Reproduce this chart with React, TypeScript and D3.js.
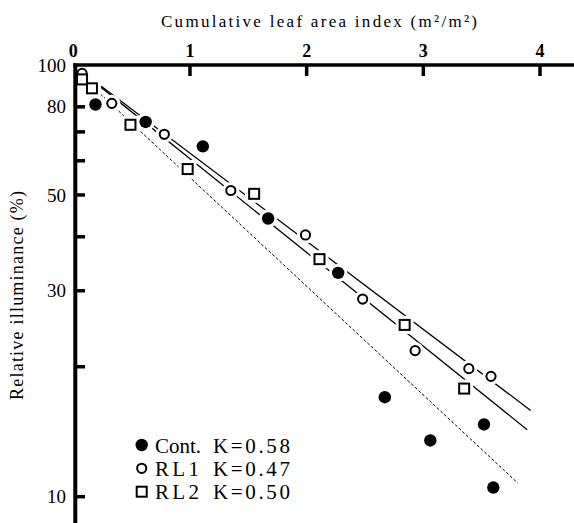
import React from "react";
import * as d3 from "d3";

const WIDTH = 574;
const HEIGHT = 523;

// Axis ticks
const laiTicks = [0, 1, 2, 3, 4];
const illumTicks = [10, 20, 30, 40, 50, 60, 70, 80, 100];
const illumLabels = [10, 30, 50, 80, 100];

// Control canopy (filled circles)
const contLAI = [0.19, 0.62, 1.11, 1.67, 2.27, 2.67, 3.06, 3.52, 3.6];
const contIllum = [81.0, 73.8, 64.8, 44.1, 33.0, 17.0, 13.5, 14.7, 10.5];

// RL1 (open circles)
const rl1LAI = [0.075, 0.33, 0.78, 1.35, 1.99, 2.48, 2.93, 3.39, 3.58];
const rl1Illum = [95.6, 81.5, 69.1, 51.2, 40.4, 28.7, 21.8, 19.8, 19.0];

// RL2 (open squares)
const rl2LAI = [0.075, 0.16, 0.49, 0.98, 1.55, 2.11, 2.84, 3.35];
const rl2Illum = [92.6, 88.3, 72.7, 57.4, 50.3, 35.5, 25.0, 17.8];

// Beer–Lambert fits: I = I0 * exp(-K * F)
const seriesNames = ["Cont.", "RL1", "RL2"];
const extinctionK = [0.58, 0.47, 0.5];
const fitIntercept = [98, 100, 100];
const fitStart = [0.2, 0.24, 0.22];
const fitEnd = [3.81, 3.92, 3.89];

type Kind = "dot" | "circle" | "square";
const seriesKinds: Kind[] = ["dot", "circle", "square"];
const seriesLAI = [contLAI, rl1LAI, rl2LAI];
const seriesIllum = [contIllum, rl1Illum, rl2Illum];

const FONT = "Liberation Serif, DejaVu Serif, serif";

function Marker({ kind, cx, cy, halo = false }: { kind: Kind; cx: number; cy: number; halo?: boolean }) {
  const pad = halo ? 3 : 0;
  const stroke = halo ? "#fff" : "#000";
  if (kind === "dot") {
    return <circle cx={cx} cy={cy} r={6.2 + pad} fill={halo ? "#fff" : "#000"} />;
  }
  if (kind === "circle") {
    return <circle cx={cx} cy={cy} r={4.6 + pad} fill="#fff" stroke={stroke} strokeWidth={2} />;
  }
  const s = 10 + pad * 2;
  return (
    <rect x={cx - s / 2} y={cy - s / 2} width={s} height={s} fill="#fff" stroke={stroke} strokeWidth={2} />
  );
}

export default function App() {
  const x = d3.scaleLinear().domain([0, 4]).range([73.3, 540]);
  const y = d3.scaleLog().domain([10, 100]).range([496.7, 65]);

  const fitLine = d3
    .line<number[]>()
    .x((d) => x(d[0]))
    .y((d) => y(d[1]));

  const fits = seriesNames.map((_, i) => {
    const pts = [fitStart[i], fitEnd[i]].map((f) => [f, fitIntercept[i] * Math.exp(-extinctionK[i] * f)]);
    return fitLine(pts) as string;
  });

  const lineDash = ["3 2", undefined, undefined];
  const lineWidth = [1, 1.3, 1.3];

  const points = seriesKinds.flatMap((kind, i) =>
    seriesLAI[i].map((f, j) => ({ kind, cx: x(f), cy: y(seriesIllum[i][j]), key: `${i}-${j}` }))
  );

  const legendY = [445, 468.3, 491.7];
  const legendNameLen = [46, 44, 44];

  const textStyle = { fontFamily: FONT };

  return (
    <svg
      width={WIDTH}
      height={HEIGHT}
      viewBox={`0 0 ${WIDTH} ${HEIGHT}`}
      style={{ position: "absolute", left: 0, top: 0, background: "#fff", fontFamily: FONT }}
    >
      <rect x={0} y={0} width={WIDTH} height={HEIGHT} fill="#fff" />

      {/* Axis titles */}
      <text
        x={319}
        y={27}
        fontSize={17}
        textAnchor="middle"
        textLength={316}
        lengthAdjust="spacing"
        style={textStyle}
      >
        Cumulative leaf area index (m²/m²)
      </text>
      <text
        transform="translate(23, 295.5) rotate(-90)"
        fontSize={18}
        textAnchor="middle"
        textLength={209}
        lengthAdjust="spacing"
        style={textStyle}
      >
        Relative illuminance (%)
      </text>

      {/* Fit lines */}
      {fits.map((d, i) => (
        <path
          key={`fit-${i}`}
          d={d}
          fill="none"
          stroke="#000"
          strokeWidth={lineWidth[i]}
          strokeDasharray={lineDash[i]}
        />
      ))}

      {/* White gaps around markers */}
      {points.map((p) => (
        <Marker key={`h-${p.key}`} kind={p.kind} cx={p.cx} cy={p.cy} halo />
      ))}
      {points.map((p) => (
        <Marker key={`m-${p.key}`} kind={p.kind} cx={p.cx} cy={p.cy} />
      ))}

      {/* Top axis */}
      <line x1={x(0)} x2={WIDTH} y1={65} y2={65} stroke="#000" strokeWidth={3.5} />
      {laiTicks
        .filter((t) => t > 0)
        .map((t) => (
          <line key={`xt-${t}`} x1={x(t)} x2={x(t)} y1={65} y2={76} stroke="#000" strokeWidth={3.5} />
        ))}
      {laiTicks.map((t) => (
        <text key={`xl-${t}`} x={x(t)} y={57} fontSize={18} fontWeight="bold" textAnchor="middle" style={textStyle}>
          {t}
        </text>
      ))}

      {/* Left axis */}
      <line x1={75.3} x2={75.3} y1={63.3} y2={HEIGHT} stroke="#000" strokeWidth={4} />
      {illumTicks
        .filter((t) => t < 100)
        .map((t) => (
          <line key={`yt-${t}`} x1={75} x2={85} y1={y(t)} y2={y(t)} stroke="#000" strokeWidth={3.5} />
        ))}
      {illumLabels.map((t) => (
        <text key={`yl-${t}`} x={66} y={y(t)} dy="0.35em" fontSize={19} textAnchor="end" style={textStyle}>
          {t}
        </text>
      ))}

      {/* Legend */}
      {seriesNames.map((name, i) => (
        <g key={`lg-${i}`}>
          <Marker kind={seriesKinds[i]} cx={141.7} cy={legendY[i]} />
          <text
            x={155}
            y={legendY[i] + 7.5}
            fontSize={21}
            textLength={legendNameLen[i]}
            lengthAdjust="spacing"
            style={textStyle}
          >
            {name}
          </text>
          <text
            x={213}
            y={legendY[i] + 7.5}
            fontSize={21}
            textLength={77}
            lengthAdjust="spacing"
            style={textStyle}
          >
            {`K=${extinctionK[i].toFixed(2)}`}
          </text>
        </g>
      ))}
    </svg>
  );
}
